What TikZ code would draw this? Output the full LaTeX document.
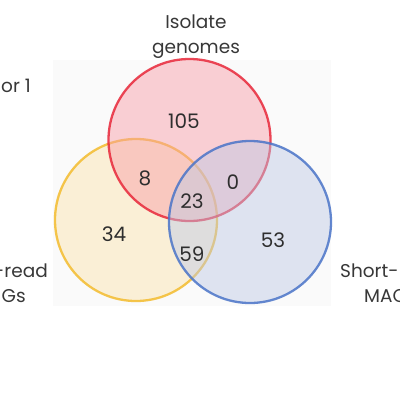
\documentclass[tikz,border=0pt]{standalone}
\usepackage{fontspec}
\setmainfont{Poppins}
\begin{document}
\begin{tikzpicture}[x=1pt,y=-1pt,
  lbl/.style={font=\fontsize{18.5}{22}\selectfont, text=black!78, inner sep=0pt},
  num/.style={font=\fontsize{20}{24}\selectfont, text=black!82, inner sep=0pt, anchor=base},
  setc/.style={line width=2.3pt, fill opacity=0.45, draw opacity=0.85}]
\useasboundingbox (0,0) rectangle (400,400);
\fill[white] (0,0) rectangle (400,400);
\fill[black!2] (53,60) rectangle (331,306);
\definecolor{rfill}{HTML}{F99AA5}
\definecolor{rline}{HTML}{E8283A}
\definecolor{yfill}{HTML}{FBE3AC}
\definecolor{yline}{HTML}{F3BC2E}
\definecolor{bfill}{HTML}{BCC8E6}
\definecolor{bline}{HTML}{4A74C8}
\node[setc, draw=yline, fill=yfill, circle, minimum size=162pt] (yc) at (136,220) {};
\node[setc, draw=rline, fill=rfill, circle, minimum size=162pt] (rc) at (189.5,140) {};
\node[setc, draw=bline, fill=bfill, circle, minimum size=162pt] (bc) at (250,222) {};
\node[num] (n105) at (184,128) {105};
\node[num] (n8) at (145,185) {8};
\node[num] (n0) at (233,189) {0};
\node[num] (n23) at (192,208) {23};
\node[num] (n34) at (114,241) {34};
\node[num] (n59) at (192,261) {59};
\node[num] (n53) at (273,247) {53};
\node[lbl, anchor=base] (t1) at (196,28) {Isolate};
\node[lbl, anchor=base] (t2) at (196,53) {genomes};
\node[lbl, anchor=base east] (t3) at (31,92) {or 1};
\node[lbl, anchor=base east] (t4) at (48,277) {-read};
\node[lbl, anchor=base east] (t5) at (26,302) {Gs};
\node[lbl, anchor=base west] (t6) at (340,277) {Short-};
\node[lbl, anchor=base west] (t7) at (364,302) {MAC};
\end{tikzpicture}
\end{document}
